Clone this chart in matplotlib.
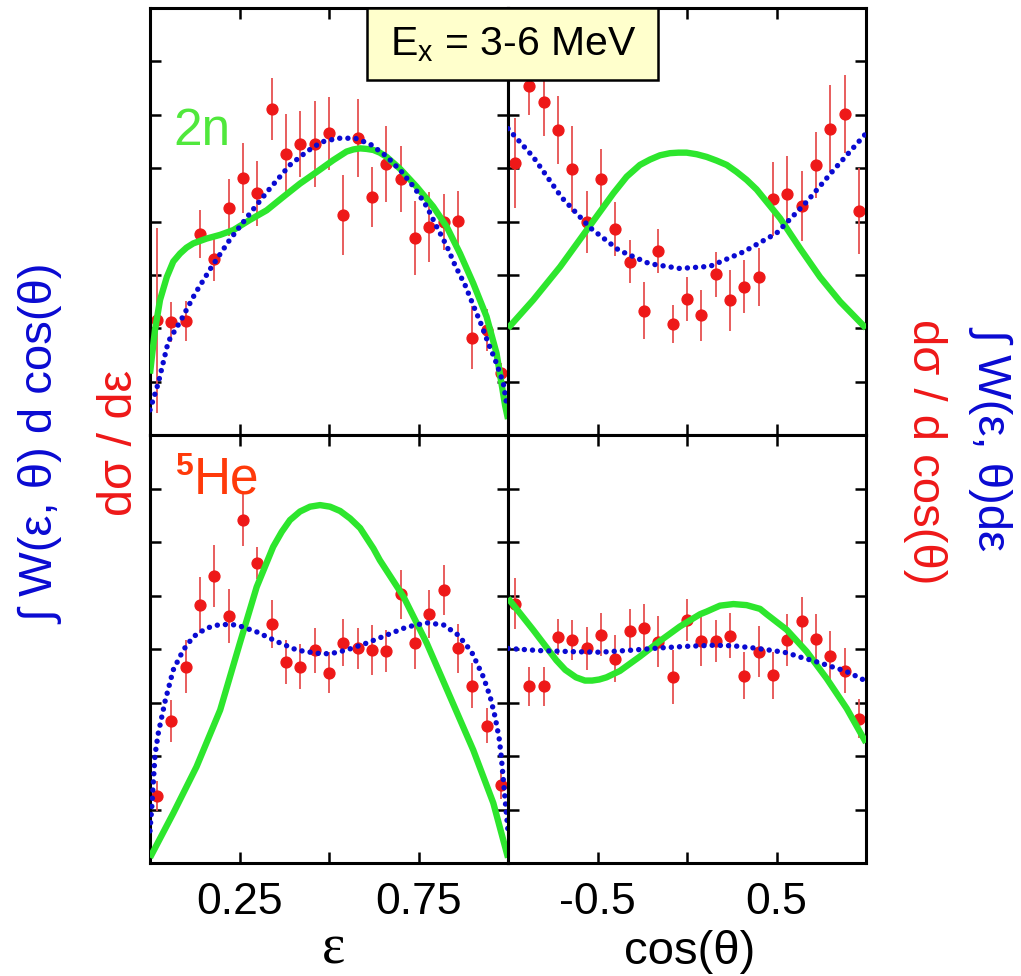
import numpy as np
import matplotlib
matplotlib.use("Agg")
import matplotlib.pyplot as plt
from matplotlib.patches import Rectangle

plt.rcParams['font.family'] = ['Liberation Sans', 'DejaVu Sans']
plt.rcParams['mathtext.fontset'] = 'custom'
plt.rcParams['mathtext.rm'] = 'Liberation Sans'
plt.rcParams['mathtext.it'] = 'Liberation Sans:italic'

RED = '#ee1818'
ERR = '#e65050'
GREEN = '#2de62d'
BLUE = '#0a0ad2'

# bin centres
eps_x = np.linspace(0.02, 0.98, 25)
cos_x = np.linspace(-0.96, 0.96, 25)

# ---- 2n : d sigma / d eps ----
n2_eps_y = [2.15, 2.12, 2.14, 3.76, 3.29, 4.26, 4.81, 4.53, 6.10, 5.26, 5.45, 5.45, 5.65,
            4.12, 5.57, 4.46, 5.07, 4.79, 3.69, 3.90, 3.99, 4.01, 1.82, 1.97, 1.16]
n2_eps_err = [1.73, 0.37, 0.37, 0.45, 0.41, 0.53, 0.66, 0.61, 0.58, 0.75, 0.62, 0.81, 0.69,
              0.75, 0.73, 0.56, 0.71, 0.62, 0.70, 0.66, 0.53, 0.57, 0.59, 0.39, 0.19]
n2_eps_fit_x = [0.0, 0.005, 0.014, 0.028, 0.047, 0.065, 0.084, 0.102, 0.121, 0.158, 0.196,
                0.233, 0.279, 0.326, 0.372, 0.419, 0.466, 0.512, 0.549, 0.568, 0.587,
                0.605, 0.624, 0.642, 0.661, 0.698, 0.745, 0.791, 0.829, 0.866, 0.903,
                0.940, 0.968, 0.992, 1.0]
n2_eps_fit_y = [1.15, 1.45, 1.97, 2.53, 2.96, 3.25, 3.40, 3.51, 3.59, 3.68, 3.75,
                3.84, 4.03, 4.21, 4.46, 4.71, 4.93, 5.15, 5.31, 5.35, 5.37,
                5.36, 5.34, 5.29, 5.21, 4.99, 4.65, 4.28, 3.90, 3.40, 2.84,
                2.22, 1.53, 0.55, 0.3]
n2_eps_mod_x = [0.0, 0.023, 0.051, 0.084, 0.126, 0.172, 0.223, 0.279, 0.335, 0.391, 0.438,
                0.479, 0.526, 0.573, 0.615, 0.661, 0.703, 0.740, 0.773, 0.801, 0.829,
                0.852, 0.880, 0.903, 0.924, 0.945, 0.968, 0.987, 0.996]
n2_eps_mod_y = [0.47, 0.97, 1.75, 2.12, 2.65, 3.15, 3.66, 4.15, 4.62, 5.06, 5.31,
                5.49, 5.56, 5.56, 5.45, 5.22, 4.93, 4.62, 4.28, 3.90, 3.54,
                3.18, 2.81, 2.43, 2.09, 1.72, 1.34, 0.97, 0.59]

# ---- 2n : d sigma / d cos(theta) ----
n2_cos_y = [5.09, 6.54, 6.24, 5.72, 4.98, 3.99, 4.79, 3.86, 3.25, 2.33, 3.45, 2.08, 2.55,
            2.24, 3.01, 2.52, 2.78, 2.96, 4.42, 4.51, 4.29, 5.06, 5.74, 6.01, 4.20]
n2_cos_err = [0.84, 0.55, 0.64, 0.64, 0.81, 0.58, 0.56, 0.50, 0.41, 0.53, 0.41, 0.36, 0.41,
              0.47, 0.42, 0.58, 0.50, 0.55, 0.70, 0.72, 0.66, 0.62, 0.81, 0.73, 0.80]
n2_cos_fit_x = [-1.0, -0.859, -0.709, -0.560, -0.411, -0.337, -0.263, -0.207, -0.151,
                -0.095, -0.048, -0.002, 0.054, 0.110, 0.166, 0.222, 0.277, 0.333, 0.389,
                0.520, 0.631, 0.743, 0.855, 1.0]
n2_cos_fit_y = [2.0, 2.53, 3.15, 3.84, 4.53, 4.84, 5.06, 5.16, 5.24,
                5.28, 5.29, 5.29, 5.26, 5.21, 5.14, 5.06, 4.93, 4.78, 4.60,
                4.06, 3.50, 2.96, 2.50, 2.0]
n2_cos_mod_x = [-1.0, -0.859, -0.70, -0.54, -0.38, -0.21, -0.04, 0.128, 0.315, 0.50,
                0.669, 0.818, 1.0]
n2_cos_mod_y = [5.74, 5.21, 4.45, 3.88, 3.46, 3.21, 3.12, 3.16, 3.43, 3.78,
                4.37, 4.96, 5.65]

# ---- 5He : d sigma / d eps ----
he_eps_y = [1.26, 2.66, 3.67, 4.82, 5.36, 4.62, 6.42, 5.61, 4.47, 3.75, 3.67, 3.98, 3.56,
            4.12, 4.01, 3.98, 3.96, 5.02, 4.11, 4.65, 5.10, 4.01, 3.31, 2.57, 1.45]
he_eps_err = [0.28, 0.39, 0.50, 0.53, 0.58, 0.51, 0.50, 0.30, 0.45, 0.41, 0.42, 0.42, 0.39,
              0.44, 0.39, 0.47, 0.39, 0.45, 0.48, 0.45, 0.47, 0.45, 0.42, 0.33, 0.25]
he_eps_fit_x = [0.0, 0.065, 0.130, 0.196, 0.251, 0.298, 0.344, 0.368, 0.391, 0.419,
                0.447, 0.475, 0.503, 0.531, 0.559, 0.587, 0.624, 0.642, 0.708, 0.773,
                0.838, 0.903, 0.959, 1.0]
he_eps_fit_y = [0.1, 0.93, 1.80, 2.86, 4.11, 5.16, 5.91, 6.19, 6.41, 6.57,
                6.66, 6.69, 6.66, 6.58, 6.44, 6.26, 5.88, 5.66, 4.98, 4.11,
                3.11, 2.11, 1.12, 0.1]
he_eps_mod_x = [0.0, 0.005, 0.014, 0.023, 0.042, 0.065, 0.093, 0.121, 0.158, 0.196, 0.242,
                0.298, 0.354, 0.410, 0.466, 0.503, 0.549, 0.605, 0.661, 0.717, 0.773,
                0.820, 0.861, 0.898, 0.931, 0.950, 0.964, 0.976, 0.982, 0.987, 0.992, 1.0]
he_eps_mod_y = [0.6, 1.05, 2.02, 2.42, 3.02, 3.61, 3.98, 4.23, 4.39, 4.46, 4.45,
                4.32, 4.14, 3.98, 3.92, 3.91, 3.98, 4.11, 4.26, 4.41, 4.49,
                4.45, 4.26, 3.95, 3.48, 3.11, 2.73, 2.30, 1.93, 1.55, 1.18, 0.6]

# ---- 5He : d sigma / d cos(theta) ----
he_cos_y = [4.85, 3.30, 3.30, 4.23, 4.17, 4.01, 4.27, 3.82, 4.34, 4.39, 4.14, 3.48, 4.54,
            4.15, 4.15, 4.25, 3.50, 3.95, 3.51, 4.17, 4.53, 4.18, 3.87, 3.59, 2.70]
he_cos_err = [0.47, 0.36, 0.36, 0.34, 0.37, 0.40, 0.40, 0.44, 0.40, 0.45, 0.47, 0.51, 0.39,
              0.47, 0.40, 0.42, 0.44, 0.48, 0.44, 0.48, 0.44, 0.47, 0.47, 0.42, 0.37]
he_cos_fit_x = [-1.0, -0.86, -0.73, -0.68, -0.62, -0.57, -0.53, -0.49, -0.45, -0.375,
                -0.263, -0.151, -0.04, 0.073, 0.11, 0.184, 0.259, 0.333, 0.408, 0.445,
                0.557, 0.669, 0.780, 0.892, 1.0]
he_cos_fit_y = [4.95, 4.36, 3.79, 3.61, 3.47, 3.41, 3.41, 3.43, 3.47, 3.59,
                3.86, 4.15, 4.42, 4.65, 4.70, 4.81, 4.84, 4.82, 4.75, 4.65,
                4.36, 3.95, 3.45, 2.89, 2.25]
he_cos_mod_x = [-1.0, -0.821, -0.635, -0.486, -0.300, -0.151, -0.002, 0.147, 0.259, 0.370,
                0.482, 0.557, 0.631, 0.706, 0.780, 0.855, 0.911, 1.0]
he_cos_mod_y = [4.01, 3.97, 3.95, 3.94, 3.98, 4.02, 4.05, 4.07, 4.06, 4.02,
                3.97, 3.93, 3.85, 3.78, 3.70, 3.62, 3.55, 3.40]

W, H = 1021, 976
fig = plt.figure(figsize=(W / 100, H / 100), dpi=100)

xl, xm, xr = 150 / W, 508 / W, 866 / W
yt, ym, yb = 1 - 8 / H, 1 - 435 / H, 1 - 863 / H

ax_tl = fig.add_axes([xl, ym, xm - xl, yt - ym])
ax_tr = fig.add_axes([xm, ym, xr - xm, yt - ym])
ax_bl = fig.add_axes([xl, yb, xm - xl, ym - yb])
ax_br = fig.add_axes([xm, yb, xr - xm, ym - yb])


def draw(ax, x, y, err, fx, fy, mx, my):
    ax.errorbar(x, y, yerr=err, fmt='o', color=RED, ecolor=ERR, elinewidth=1.3,
                capsize=0, ms=7.8, zorder=2)
    ax.plot(fx, fy, color=GREEN, lw=4.6, zorder=3, solid_capstyle='butt',
            solid_joinstyle='round')
    ax.plot(mx, my, color=BLUE, lw=3.9, ls=(0, (0.01, 1.5)),
            dash_capstyle='round', zorder=4)
    ax.set_ylim(0, 8)
    ax.set_yticks(range(1, 8))
    ax.tick_params(axis='both', direction='in', length=8, width=1.8,
                   top=True, right=True, labelleft=False, labelsize=32, pad=14)
    for s in ax.spines.values():
        s.set_linewidth(2.2)


draw(ax_tl, eps_x, n2_eps_y, n2_eps_err, n2_eps_fit_x, n2_eps_fit_y, n2_eps_mod_x, n2_eps_mod_y)
draw(ax_tr, cos_x, n2_cos_y, n2_cos_err, n2_cos_fit_x, n2_cos_fit_y, n2_cos_mod_x, n2_cos_mod_y)
draw(ax_bl, eps_x, he_eps_y, he_eps_err, he_eps_fit_x, he_eps_fit_y, he_eps_mod_x, he_eps_mod_y)
draw(ax_br, cos_x, he_cos_y, he_cos_err, he_cos_fit_x, he_cos_fit_y, he_cos_mod_x, he_cos_mod_y)

for ax in (ax_tl, ax_bl):
    ax.set_xlim(0, 1)
    ax.set_xticks([0.25, 0.5, 0.75])
    ax.set_xticklabels(['0.25', '', '0.75'])
for ax in (ax_tr, ax_br):
    ax.set_xlim(-1, 1)
    ax.set_xticks([-0.5, 0, 0.5])
    ax.set_xticklabels(['-0.5', '', '0.5'])
for ax in (ax_tl, ax_tr):
    ax.tick_params(labelbottom=False)

# panel tags
fig.text(173 / W, 1 - 145 / H, '2n', color='#50e83c', fontsize=37, ha='left', va='baseline')
fig.text(175 / W, 1 - 475 / H, '5', color='#ff3a0a', fontsize=23, fontweight='bold',
         ha='left', va='baseline')
fig.text(194 / W, 1 - 493 / H, 'He', color='#ff3a0a', fontsize=37, ha='left', va='baseline')

# energy window box
fig.patches.append(Rectangle((367 / W, 1 - 80 / H), 291 / W, 72 / H, transform=fig.transFigure,
                             facecolor='#ffffcc', edgecolor='black', lw=1.8, zorder=10))
fig.text(513 / W, 1 - 45 / H, r'E$_{\mathrm{x}}$ = 3-6 MeV', fontsize=29.5,
         ha='center', va='center', zorder=11)

# axis titles
fig.text(333 / W, 1 - 950 / H, 'ε', family=['Liberation Serif', 'DejaVu Serif'],
         fontsize=40, ha='center', va='center')
fig.text(690 / W, 1 - 952 / H, 'cos(θ)', fontsize=34, ha='center', va='center')

fig.text(42 / W, 1 - 444 / H, '∫ W(ε, θ) d cos(θ)', color=BLUE, fontsize=34,
         rotation=90, ha='center', va='center')
fig.text(120 / W, 1 - 443 / H, 'dσ / dε', color=RED, fontsize=35,
         rotation=90, ha='center', va='center')
fig.text(925 / W, 1 - 452 / H, 'dσ / d cos(θ)', color=RED, fontsize=34,
         rotation=270, ha='center', va='center')
fig.text(992 / W, 1 - 438 / H, '∫ W(ε, θ)dε', color=BLUE, fontsize=34,
         rotation=270, ha='center', va='center')

fig.savefig('out.png', dpi=100)
